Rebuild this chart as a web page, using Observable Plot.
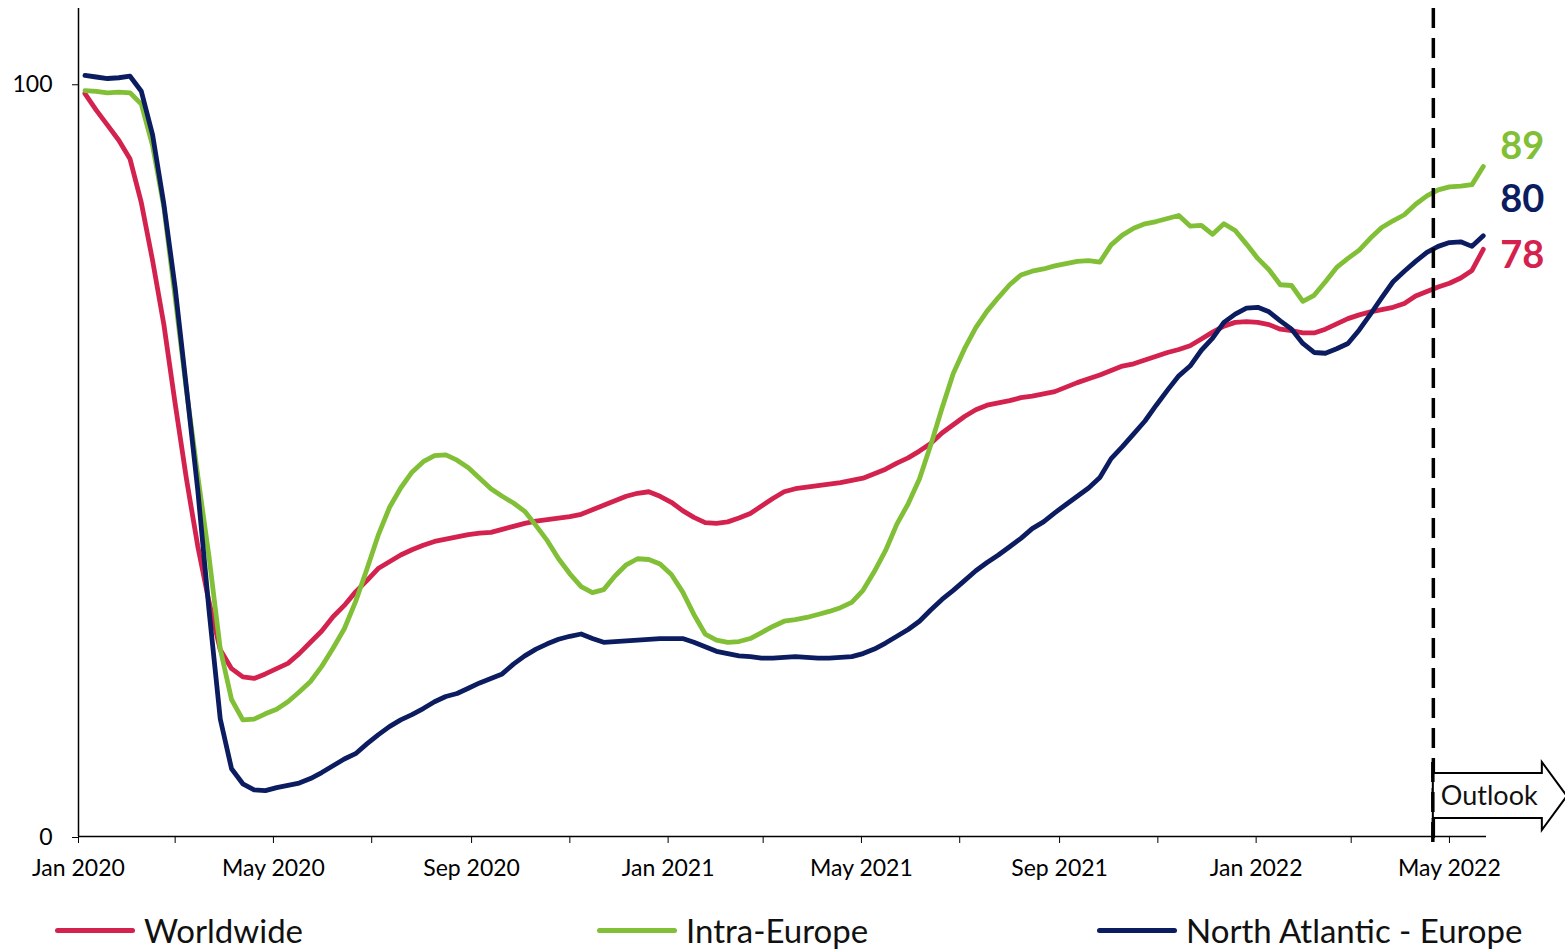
<!DOCTYPE html>
<html><head><meta charset="utf-8">
<script src="https://cdn.jsdelivr.net/npm/d3@7"></script>
<script src="https://cdn.jsdelivr.net/npm/@observablehq/plot@0.6"></script>
<style>
body{margin:0;background:#fff;font-family:Lato,"Open Sans",sans-serif;}
#chart{position:relative;width:1565px;height:950px;overflow:hidden}
#chart svg{position:absolute;left:0;top:0}
.legend{position:absolute;top:895px;left:0;width:1565px;height:55px}
.item{position:absolute;top:0;height:70px;display:flex;align-items:center;font-size:33px;color:#111;white-space:nowrap}
.sw{width:80px;height:5px;border-radius:3px;margin-right:9px}
</style></head><body><div id="chart"></div>
<script>
// weekly series, first week starting 2020-01-05
const firstWeek = "2020-01-05";
const seriesNames = ["Worldwide", "Intra-Europe", "North Atlantic - Europe"];
const seriesColors = ["#d4224f", "#80bf36", "#0b1c60"];
const worldwide = [
98.7,96.5,94.5,92.5,90,84.2,76.5,68,57.5,47.5,
38.6,31.2,24.8,22.3,21.2,21,21.6,22.3,23,24.3,
25.8,27.3,29.2,30.7,32.5,34,35.6,36.5,37.4,38.1,
38.7,39.2,39.5,39.8,40.1,40.3,40.4,40.8,41.2,41.6,
41.9,42.1,42.3,42.5,42.8,43.4,44,44.6,45.2,45.6,
45.8,45.2,44.4,43.3,42.4,41.7,41.6,41.8,42.3,42.9,
43.9,44.9,45.8,46.2,46.4,46.6,46.8,47,47.3,47.6,
48.2,48.8,49.6,50.3,51.2,52.2,53.6,54.7,55.8,56.7,
57.3,57.6,57.9,58.3,58.5,58.8,59.1,59.7,60.3,60.8,
61.3,61.9,62.5,62.8,63.3,63.8,64.3,64.7,65.2,66.1,
67,67.8,68.3,68.4,68.3,68,67.4,67.2,66.9,66.9,
67.4,68.1,68.8,69.3,69.7,70,70.3,70.8,71.8,72.4,
73,73.5,74.2,75.2,78];
const intraEurope = [
99.1,99,98.8,98.9,98.8,97.3,91.8,83.6,71.6,59.3,
48,37.2,24.9,18.2,15.5,15.6,16.3,16.9,17.9,19.2,
20.6,22.6,25,27.6,31.2,35.5,40,43.7,46.3,48.4,
49.8,50.6,50.7,50,49,47.6,46.2,45.2,44.3,43.2,
41.3,39.3,36.9,34.9,33.2,32.4,32.8,34.6,36.1,36.9,
36.8,36.2,34.8,32.5,29.5,26.9,26.1,25.8,25.9,26.3,
27.1,27.9,28.6,28.8,29.1,29.5,29.9,30.4,31.1,32.7,
35.2,38,41.5,44.2,47.5,52,56.9,61.5,64.8,67.6,
69.8,71.6,73.3,74.6,75.1,75.4,75.8,76.1,76.4,76.5,
76.3,78.6,79.9,80.8,81.4,81.7,82.1,82.5,81.1,81.2,
80,81.4,80.5,78.7,76.8,75.3,73.3,73.2,71.1,71.9,
73.7,75.6,76.8,77.9,79.5,80.9,81.8,82.6,84,85.1,
85.9,86.3,86.4,86.6,89];
const northAtlantic = [
101.1,100.9,100.7,100.8,101,99,93.2,84,72.9,59.6,
46.1,30.1,15.6,9,7,6.2,6.1,6.5,6.8,7.1,
7.7,8.5,9.4,10.3,11,12.3,13.5,14.6,15.5,16.2,
17,17.9,18.6,19,19.7,20.4,21,21.6,22.9,24,
24.9,25.6,26.2,26.6,26.9,26.3,25.8,25.9,26,26.1,
26.2,26.3,26.3,26.3,25.8,25.2,24.6,24.3,24,23.9,
23.7,23.7,23.8,23.9,23.8,23.7,23.7,23.8,23.9,24.3,
24.9,25.7,26.6,27.5,28.6,30.1,31.5,32.7,34,35.3,
36.4,37.4,38.5,39.6,40.9,41.8,43,44.1,45.2,46.3,
47.7,50.2,51.8,53.5,55.2,57.3,59.3,61.2,62.5,64.6,
66.2,68.3,69.4,70.2,70.3,69.7,68.5,67.4,65.5,64.3,
64.2,64.8,65.5,67.3,69.4,71.6,73.7,75.1,76.4,77.6,
78.4,78.9,79,78.4,79.8];
const yTicks = [0, 100];
const xStart = "2020-01-01", xEnd = "2022-05-24";
const outlookStart = "2022-04-21";
const outlookLabel = "Outlook";

const seriesValues = [worldwide, intraEurope, northAtlantic];
const start = new Date(firstWeek);
const rows = [];
seriesValues.forEach((vals, s) => vals.forEach((v, i) => rows.push({date: d3.utcDay.offset(start, 7 * i), value: v, series: seriesNames[s]})));
const lastPoints = seriesNames.map(n => rows.filter(r => r.series === n).at(-1));
const labelDy = [6, -20, -36];

const fmt = d3.utcFormat("%b %Y");
const xTicks = d3.utcMonth.every(2).range(new Date(xStart), new Date(xEnd));

const plot = Plot.plot({
  width: 1565, height: 895,
  marginLeft: 78, marginRight: 79, marginTop: 8, marginBottom: 59,
  style: {fontFamily: "Lato, 'Open Sans', sans-serif", color: "#000", background: "transparent"},
  x: {type: "utc", domain: [new Date(xStart), new Date(xEnd)]},
  y: {domain: [0, 110]},
  color: {domain: seriesNames, range: seriesColors},
  marks: [
    Plot.axisX({ticks: xTicks, tickSize: 7, tickPadding: 16, fontSize: 23, label: null,
      tickFormat: d => d.getUTCMonth() % 4 === 0 ? fmt(d) : ""}),
    Plot.axisY({ticks: yTicks, tickSize: 6, tickPadding: 20, fontSize: 23, label: null, dy: 1}),
    Plot.ruleY([0], {stroke: "#000", strokeWidth: 1.5}),
    Plot.ruleX([new Date(xStart)], {stroke: "#000", strokeWidth: 1.5}),
    Plot.lineY(rows, {x: "date", y: "value", stroke: "series", strokeWidth: 4.8, strokeLinejoin: "round", strokeLinecap: "round"}),
    Plot.ruleX([new Date(outlookStart)], {stroke: "#000", strokeWidth: 3.5, strokeDasharray: "20,10", insetBottom: -8}),
    ...lastPoints.map((p, k) => Plot.text([p], {x: "date", y: "value", text: d => String(Math.round(d.value)),
      fill: seriesColors[k], dx: 17, dy: labelDy[k], textAnchor: "start", fontWeight: "bold", fontSize: 38}))
  ]
});

// Outlook arrow anchored on the outlook date
const sx = plot.scale("x"), sy = plot.scale("y");
const ax = sx.apply(new Date(outlookStart)), ay = sy.apply(0);
const g = d3.select(plot).append("g");
g.append("path")
  .attr("d", `M${ax},${ay-63} L${ax+109},${ay-63} L${ax+109},${ay-74} L${ax+134},${ay-40} L${ax+109},${ay-6} L${ax+109},${ay-18} L${ax},${ay-18} Z`)
  .attr("fill", "#fff").attr("stroke", "#000").attr("stroke-width", 2);
g.append("text").attr("x", ax + 8).attr("y", ay - 40).attr("dy", "0.35em")
  .attr("text-anchor", "start")
  .attr("font-size", 27).attr("fill", "#111").attr("font-family", "Lato, sans-serif").text(outlookLabel);
// redraw dashed line portion over arrow
d3.select(plot).append("line").attr("x1", ax).attr("x2", ax).attr("y1", ay - 74).attr("y2", ay + 8)
  .attr("stroke", "#000").attr("stroke-width", 3.5).attr("stroke-dasharray", "20,10");

const chart = document.getElementById("chart");
chart.appendChild(plot);
const legend = document.createElement("div");
legend.className = "legend";
const lefts = [55, 597, 1097];
seriesNames.forEach((n, k) => {
  const it = document.createElement("div");
  it.className = "item";
  it.style.left = lefts[k] + "px";
  it.innerHTML = `<span class="sw" style="background:${seriesColors[k]}"></span><span>${n}</span>`;
  legend.appendChild(it);
});
chart.appendChild(legend);
</script></body></html>
